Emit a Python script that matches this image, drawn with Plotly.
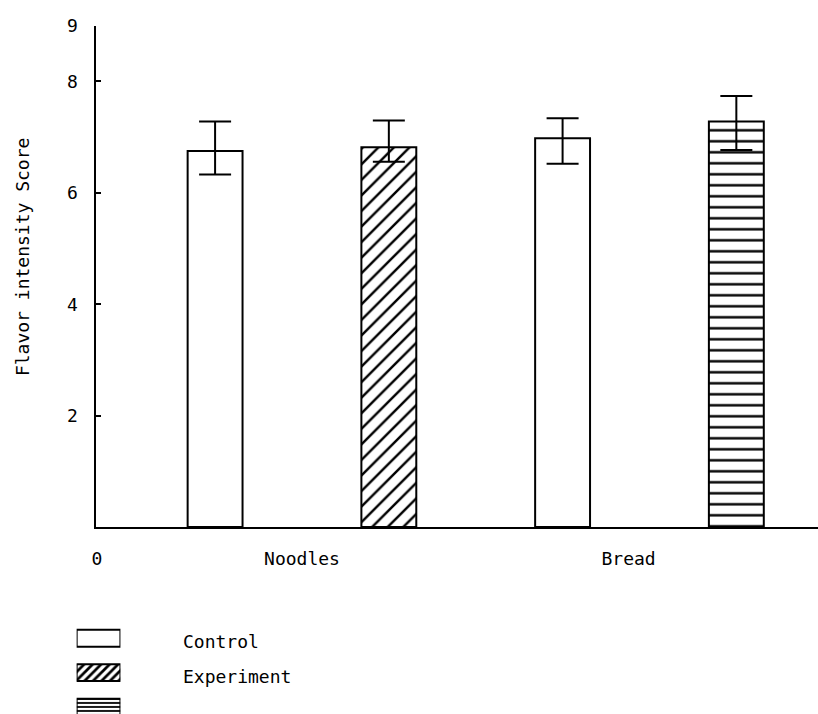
import plotly.graph_objects as go

# ---- data ----
categories = ["Noodles", "Bread"]
control = [6.75, 6.98]
control_err_plus = [0.53, 0.36]
control_err_minus = [0.42, 0.46]
experiment = [6.82, 7.28]
experiment_err_plus = [0.48, 0.46]
experiment_err_minus = [0.26, 0.51]
experiment_patterns = ["/", "-"]
y_ticks = [2, 4, 6, 8, 9]
legend_labels = ["Control", "Experiment", ""]

FONT = "DejaVu Sans Mono"
W, H = 818, 714

idx = list(range(len(categories)))
ctrl_x = [i - 0.25 for i in idx]
exp_x = [i + 0.25 for i in idx]
bar_w = 0.158

fig = go.Figure()
fig.add_trace(go.Bar(
    x=ctrl_x, y=control, width=bar_w,
    marker=dict(color="white", opacity=1, line=dict(color="black", width=2)),
    error_y=dict(type="data", array=control_err_plus, arrayminus=control_err_minus,
                 color="black", thickness=2, width=16),
    showlegend=False, xaxis="x", yaxis="y",
))
fig.add_trace(go.Bar(
    x=exp_x, y=experiment, width=bar_w,
    marker=dict(color="white", opacity=1, line=dict(color="black", width=2),
                pattern=dict(shape=experiment_patterns, size=11, solidity=0.22,
                             fgcolor="#000000", fgopacity=1, bgcolor="white")),
    error_y=dict(type="data", array=experiment_err_plus, arrayminus=experiment_err_minus,
                 color="black", thickness=2, width=16),
    showlegend=False, xaxis="x", yaxis="y",
))

# legend key drawn as small horizontal bars in their own axes
leg_shapes = ["", "/", "-"]
leg_sizes = [8, 6, 4]
fig.add_trace(go.Bar(
    x=[1, 1, 1], y=[0, 1, 2], orientation="h", width=0.49,
    marker=dict(color="white", opacity=1, line=dict(color="black", width=2),
                pattern=dict(shape=leg_shapes, size=leg_sizes, solidity=0.45,
                             fgcolor="#000000", fgopacity=1, bgcolor="white")),
    showlegend=False, xaxis="x2", yaxis="y2", hoverinfo="skip",
))

r0 = -0.594
r1 = r0 + 2.079
legend_text_y = [640, 676, 710]
annotations = []
for k, lab in enumerate(legend_labels):
    if lab:
        annotations.append(dict(x=178 / W, y=1 - legend_text_y[k] / H, xref="paper", yref="paper",
                                text=lab, showarrow=False, xanchor="left", yanchor="middle",
                                font=dict(family=FONT, size=18, color="black")))
annotations.append(dict(x=18 / W, y=1 - 250 / H, xref="paper", yref="paper",
                        text="Flavor intensity Score", textangle=-90, showarrow=False,
                        xanchor="center", yanchor="middle",
                        font=dict(family=FONT, size=18, color="black")))

fig.update_layout(
    width=W, height=H,
    margin=dict(l=0, r=0, t=0, b=0),
    paper_bgcolor="white", plot_bgcolor="white",
    barmode="overlay",
    xaxis=dict(domain=[92 / W, 1], range=[r0, r1], showline=True, linecolor="black",
               linewidth=2, showgrid=False, zeroline=False, ticks="",
               tickvals=[r0 + 0.004, 0, 0.94], ticktext=["0"] + categories,
               ticklabelstandoff=14,
               tickfont=dict(family=FONT, size=18, color="black")),
    yaxis=dict(domain=[1 - 524 / H, 1 - 15 / H], range=[0, 9], showline=True,
               linecolor="black", linewidth=2, showgrid=False, zeroline=False,
               ticks="inside", ticklen=5, tickwidth=2, tickcolor="black",
               tickvals=y_ticks, ticklabelstandoff=12,
               tickfont=dict(family=FONT, size=18, color="black")),
    xaxis2=dict(domain=[73 / W, 117 / W], range=[0, 1], visible=False, anchor="y2"),
    yaxis2=dict(domain=[0, 1 - 619.5 / H], range=[2.2, -0.5], visible=False, anchor="x2"),
    annotations=annotations,
)

fig.write_html("out.html")
